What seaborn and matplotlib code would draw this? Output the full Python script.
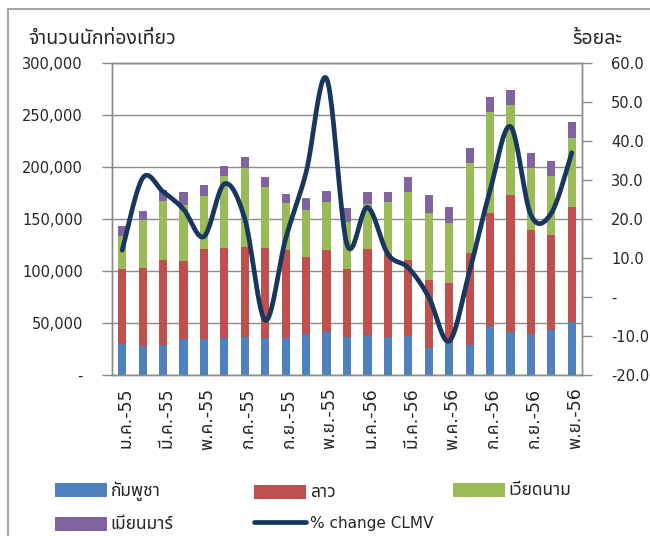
import numpy as np
import matplotlib
matplotlib.use('Agg')
import matplotlib.pyplot as plt
import seaborn as sns
from matplotlib import font_manager, ft2font
from matplotlib.patches import Patch
from matplotlib.lines import Line2D
from matplotlib.ticker import FuncFormatter, MultipleLocator
from matplotlib.transforms import ScaledTranslation

months = ['ม.ค.-55', 'ก.พ.-55', 'มี.ค.-55', 'เม.ย.-55', 'พ.ค.-55', 'มิ.ย.-55',
          'ก.ค.-55', 'ส.ค.-55', 'ก.ย.-55', 'ต.ค.-55', 'พ.ย.-55', 'ธ.ค.-55',
          'ม.ค.-56', 'ก.พ.-56', 'มี.ค.-56', 'เม.ย.-56', 'พ.ค.-56', 'มิ.ย.-56',
          'ก.ค.-56', 'ส.ค.-56', 'ก.ย.-56', 'ต.ค.-56', 'พ.ย.-56']
cambodia = [30000, 28000, 29000, 35000, 35000, 36000, 37000, 36000, 35500, 39000, 41000, 37000,
            38000, 36500, 37500, 26000, 30500, 29000, 47000, 41500, 39000, 43000, 51000]
laos = [72000, 75000, 82000, 75000, 86000, 86500, 86000, 86000, 84500, 74000, 79600, 65000,
        83600, 79500, 73500, 65000, 58200, 88700, 108500, 131100, 100700, 92000, 111000]
vietnam = [32000, 46000, 56000, 53000, 51000, 69000, 76000, 59000, 45000, 46000, 45400, 45000,
           42400, 50000, 65000, 65000, 57300, 86300, 97000, 87400, 59000, 56600, 66000]
myanmar = [9000, 9000, 11000, 12500, 11000, 9400, 11000, 9000, 9500, 11000, 11000, 14000,
           11500, 10000, 14000, 17500, 16000, 14000, 14800, 14000, 14300, 13900, 15000]
pct_change = [12, 30.5, 27, 22.5, 15.5, 29, 20, -6, 15, 32, 56, 13.5,
              23, 11, 7.5, 0, -11.3, 6.7, 27.3, 43.7, 21, 21.5, 37]

series_names = ['กัมพูชา', 'ลาว', 'เวียดนาม', 'เมียนมาร์']
colors = ['#4F81BD', '#C0504D', '#9BBB59', '#8064A2']
line_color = '#17375E'
grid_color = '#8c8c8c'


def find_thai_font():
    names = []
    for f in font_manager.fontManager.ttflist:
        try:
            if 0x0E08 in ft2font.FT2Font(f.fname).get_charmap():
                names.append(f.name)
        except Exception:
            continue
    for pref in ['Tahoma', 'Noto Sans Thai', 'Noto Sans Thai UI', 'Loma', 'Garuda', 'Sarabun']:
        if pref in names:
            return pref
    return names[0] if names else 'DejaVu Sans'


def smooth_curve(x, y, n=24):
    """Excel-like smoothed line (cubic Bezier through the points)."""
    p = np.column_stack([np.asarray(x, float), np.asarray(y, float)])
    p = np.vstack([p[0], p, p[-1]])
    t = np.linspace(0, 1, n, endpoint=False)[:, None]
    segs = []
    for i in range(1, len(p) - 2):
        p0, p1, p2, p3 = p[i - 1], p[i], p[i + 1], p[i + 2]
        c1 = p1 + (p2 - p0) / 6
        c2 = p2 - (p3 - p1) / 6
        segs.append((1 - t) ** 3 * p1 + 3 * (1 - t) ** 2 * t * c1
                    + 3 * (1 - t) * t ** 2 * c2 + t ** 3 * p2)
    segs.append(p[-2][None])
    return np.vstack(segs)


sns.set_style('white')
thai = find_thai_font()
plt.rcParams['font.family'] = ['DejaVu Sans', thai]

fig = plt.figure(figsize=(6.5, 5.36), dpi=100)
ax = fig.add_axes([112 / 650, 161 / 536, 470 / 650, 312 / 536])

# stacked bars: draw cumulative totals from the top down
stack = np.cumsum([cambodia, laos, vietnam, myanmar], axis=0)
for level in range(3, -1, -1):
    sns.barplot(x=months, y=stack[level], color=colors[level], saturation=1,
                width=0.4, linewidth=0, ax=ax, zorder=2)

ax.set_xlim(-0.5, len(months) - 0.5)
ax.set_ylim(0, 300000)
ax.yaxis.set_major_locator(MultipleLocator(50000))
ax.yaxis.set_major_formatter(FuncFormatter(lambda v, _: '-' if v == 0 else f'{v:,.0f}'))
ax.grid(axis='y', color=grid_color, lw=1.0)
ax.set_axisbelow(True)
ax.set_xticks(range(0, len(months), 2))
ax.set_xticklabels(months[::2], rotation=90)
ax.set_xticks(np.arange(-0.5, len(months) - 1, 2), minor=True)
ax.tick_params(axis='x', which='major', length=0, pad=9, labelsize=12.5)
ax.tick_params(axis='x', which='minor', length=5, width=1, color=grid_color, direction='out')
ax.tick_params(axis='y', length=7, width=1, color=grid_color, direction='out', pad=14, labelsize=10.5)
shift = ScaledTranslation(3 / 100, 0, fig.dpi_scale_trans)
for lab in ax.get_xticklabels():
    lab.set_transform(lab.get_transform() + shift)
ax.set_xlabel('')
ax.set_ylabel('')
for s in ax.spines.values():
    s.set_color(grid_color)
    s.set_linewidth(1.0)

ax2 = ax.twinx()
curve = smooth_curve(range(len(pct_change)), pct_change)
sns.lineplot(x=curve[:, 0], y=curve[:, 1], sort=False, estimator=None,
             color=line_color, lw=3.4, ax=ax2, solid_capstyle='round')
ax2.set_ylim(-20, 60)
ax2.yaxis.set_major_locator(MultipleLocator(10))
ax2.yaxis.set_major_formatter(FuncFormatter(lambda v, _: '-' if v == 0 else f'{v:.1f}'))
ax2.tick_params(axis='y', length=7, width=1, color=grid_color, direction='out', pad=14, labelsize=10.5)
ax2.set_xlim(-0.5, len(months) - 0.5)
for s in ax2.spines.values():
    s.set_color(grid_color)
    s.set_linewidth(1.0)

fig.text(28 / 650, 1 - 38 / 536, 'จำนวนนักท่องเที่ยว', ha='left', va='center', fontsize=14)
fig.text(622 / 650, 1 - 38 / 536, 'ร้อยละ', ha='right', va='center', fontsize=14)

# outer frame (left and top edges of the chart box)
fig.add_artist(Line2D([8 / 650, 8 / 650], [0, 1 - 9 / 536], transform=fig.transFigure,
                      color='#a6a6a6', lw=1.5))
fig.add_artist(Line2D([8 / 650, 1], [1 - 9 / 536, 1 - 9 / 536], transform=fig.transFigure,
                      color='#a6a6a6', lw=1.5))

patches = [Patch(facecolor=c, edgecolor='none') for c in colors]
line_handle = Line2D([], [], color=line_color, lw=3.4, solid_capstyle='round')
leg_kw = dict(frameon=False, fontsize=11, handlelength=3.4, handleheight=1.05,
              handletextpad=0.25, labelspacing=0.95, borderpad=0, borderaxespad=0,
              loc='center left')
legends = [
    fig.legend([patches[0], patches[3]], [series_names[0], series_names[3]],
               bbox_to_anchor=(55 / 650, 1 - 507 / 536), **leg_kw),
    fig.legend([patches[1], line_handle], [series_names[1], '% change CLMV'],
               bbox_to_anchor=(254 / 650, 1 - 507 / 536), **leg_kw),
    fig.legend([patches[2]], [series_names[2]],
               bbox_to_anchor=(453 / 650, 1 - 490 / 536), **leg_kw),
]
# Thai glyphs run small next to the Latin text, so bump them up
for leg in legends:
    for txt in leg.get_texts():
        if txt.get_text() != '% change CLMV':
            txt.set_fontsize(12.5)

fig.savefig('out.png', dpi=100)
